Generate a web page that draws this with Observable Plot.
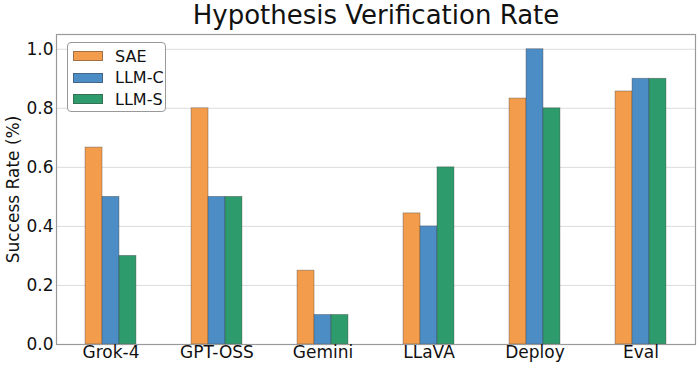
<!DOCTYPE html>
<html>
<head>
<meta charset="utf-8">
<script src="https://cdn.jsdelivr.net/npm/d3@7"></script>
<script src="https://cdn.jsdelivr.net/npm/@observablehq/plot@0.6"></script>
<style>
  html, body { margin: 0; padding: 0; background: #fff; }
  #wrap { position: relative; width: 698px; height: 367px; font-family: "DejaVu Sans", sans-serif; }
  #legend { position: absolute; left: 67px; top: 42px; width: 99px; height: 70px;
    border: 1px solid #999; border-radius: 4px; background: rgba(255,255,255,0.85); box-sizing: border-box; }
  .row { position: absolute; left: 5px; height: 20px; display: flex; align-items: center; font-size: 16px; color: #111; }
  .sw { width: 30px; height: 10px; margin-right: 12px; box-sizing: border-box; border: 0.8px solid rgba(60,60,60,0.45); }
</style>
</head>
<body>
<div id="wrap"></div>
<script>
const categories = ["Grok-4", "GPT-OSS", "Gemini", "LLaVA", "Deploy", "Eval"];
const series = ["SAE", "LLM-C", "LLM-S"];
const colors = ["#F39D4C", "#4D8DC6", "#2E9B6C"];
const sae  = [0.667, 0.8, 0.25, 0.444, 0.833, 0.857];
const llmC = [0.5, 0.5, 0.1, 0.4, 1.0, 0.9];
const llmS = [0.3, 0.5, 0.1, 0.6, 0.8, 0.9];
const yTicks = [0, 0.2, 0.4, 0.6, 0.8, 1.0];
const title = "Hypothesis Verification Rate";
const yLabel = "Success Rate (%)";

const barW = 0.16;
const values = [sae, llmC, llmS];
const data = [];
categories.forEach((c, i) => {
  series.forEach((s, j) => {
    const x1 = i + (j - 1) * barW - barW / 2;
    data.push({cat: c, series: s, x1, x2: x1 + barW, value: values[j][i]});
  });
});

const plot = Plot.plot({
  width: 698,
  height: 367,
  marginLeft: 56,
  marginRight: 3,
  marginTop: 34,
  marginBottom: 23,
  style: {fontFamily: "DejaVu Sans, sans-serif", fontSize: "17px", color: "#111", background: "#fff", overflow: "visible"},
  x: {domain: [-0.514, 5.514]},
  y: {domain: [0, 1.05]},
  color: {domain: series, range: colors},
  marks: [
    Plot.ruleY(yTicks.slice(1), {stroke: "#dcdcdc", strokeWidth: 1}),
    Plot.rectY(data, {x1: "x1", x2: "x2", y1: 0, y2: "value", fill: "series", stroke: "#3a3a3a", strokeOpacity: 0.45, strokeWidth: 0.8}),
    Plot.frame({stroke: "#999", strokeWidth: 1.2}),
    Plot.axisX({ticks: d3.range(categories.length), tickFormat: i => categories[i], tickSize: 0, tickPadding: 1, fontSize: 17, label: null, fill: "#111"}),
    Plot.axisY({ticks: yTicks, tickFormat: d3.format(".1f"), tickSize: 0, tickPadding: 3, fontSize: 17, label: null, fill: "#111"}),
    Plot.text([yLabel], {frameAnchor: "left", dx: -43, rotate: -90, textAnchor: "middle", lineAnchor: "middle", fontSize: 17, fill: "#111"}),
    Plot.text([title], {frameAnchor: "top", dy: -11, fontSize: 26, fill: "#111", lineAnchor: "bottom"})
  ]
});

const wrap = document.getElementById("wrap");
wrap.appendChild(plot);
const legend = document.createElement("div");
legend.id = "legend";
series.forEach((s, j) => {
  const row = document.createElement("div");
  row.className = "row";
  row.style.top = (3 + j * 21.5) + "px";
  const sw = document.createElement("div");
  sw.className = "sw";
  sw.style.background = colors[j];
  row.appendChild(sw);
  const t = document.createElement("span");
  t.textContent = s;
  row.appendChild(t);
  legend.appendChild(row);
});
wrap.appendChild(legend);
</script>
</body>
</html>
